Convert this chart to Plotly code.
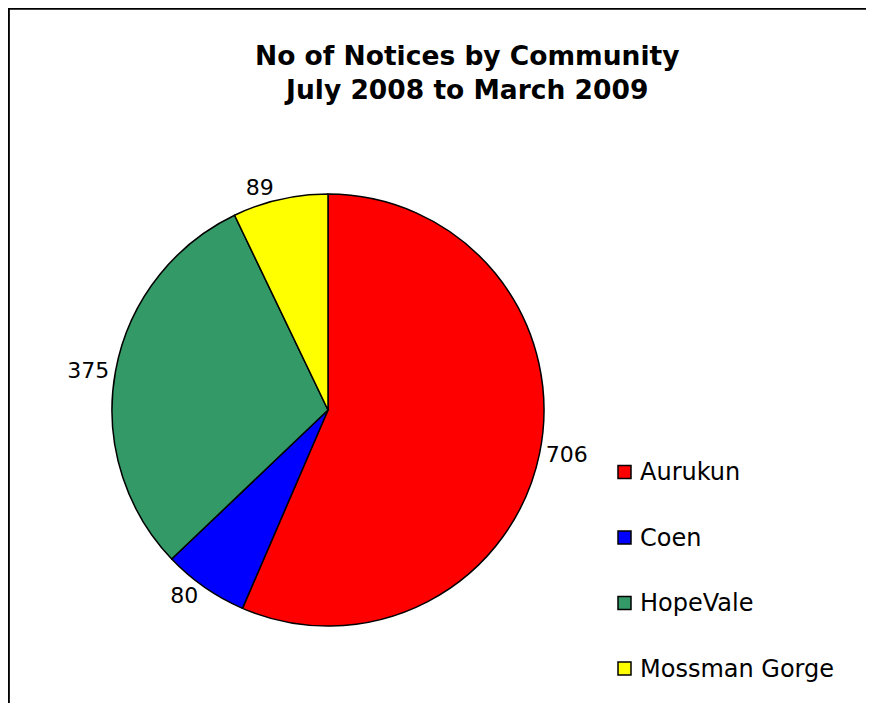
import plotly.graph_objects as go

communities = ["Aurukun", "Coen", "HopeVale", "Mossman Gorge"]
notices = [706, 80, 375, 89]
colors = ["#FF0000", "#0000FF", "#339966", "#FFFF00"]
title_lines = ["No of Notices by Community", "July 2008 to March 2009"]

OFF = 8  # page body margin
W, H = 878 - 2 * OFF - 4, 719 - 2 * OFF - 8
cx, cy, r = 328 - OFF, 410 - OFF, 216

fig = go.Figure(go.Pie(
    labels=communities,
    values=notices,
    sort=False,
    direction="clockwise",
    rotation=0,
    marker=dict(colors=colors, line=dict(color="black", width=1.5)),
    textinfo="value",
    textposition="outside",
    outsidetextfont=dict(family="DejaVu Sans", size=22, color="black"),
    domain=dict(x=[(cx - r) / W, (cx + r) / W], y=[(H - cy - r) / H, (H - cy + r) / H]),
    showlegend=False,
    hoverinfo="label+value",
))

# chart-area border: only its left and top edges fall inside the window
shapes = [
    dict(type="line", xref="paper", yref="paper", x0=0.001, x1=0.001, y0=0, y1=1,
         line=dict(color="black", width=2)),
    dict(type="line", xref="paper", yref="paper", x0=0, x1=1, y0=0.999, y1=0.999,
         line=dict(color="black", width=2)),
]
annotations = [dict(text="<b>" + "<br>".join(title_lines) + "</b>", xref="paper", yref="paper",
                    x=(467 - OFF) / W, y=1 - (73 - OFF) / H, xanchor="center", yanchor="middle",
                    showarrow=False,
                    font=dict(family="DejaVu Sans", size=26.5, color="black"))]

leg_x, leg_y0, leg_dy = 618 - OFF, 472 - OFF, 65.5
for i, (name, col) in enumerate(zip(communities, colors)):
    yc = leg_y0 + i * leg_dy
    shapes.append(dict(type="rect", xref="paper", yref="paper",
                       x0=leg_x / W, x1=(leg_x + 13) / W,
                       y0=1 - (yc + 6.5) / H, y1=1 - (yc - 6.5) / H,
                       fillcolor=col, line=dict(color="black", width=1.5)))
    annotations.append(dict(text=name, xref="paper", yref="paper",
                            x=(leg_x + 20) / W, y=1 - yc / H, xanchor="left", yanchor="middle",
                            showarrow=False,
                            font=dict(family="DejaVu Sans", size=24, color="black")))

fig.update_layout(
    width=W, height=H,
    margin=dict(l=0, r=0, t=0, b=0),
    paper_bgcolor="white",
    plot_bgcolor="white",
    shapes=shapes,
    annotations=annotations,
)

fig.write_html("out.html")
